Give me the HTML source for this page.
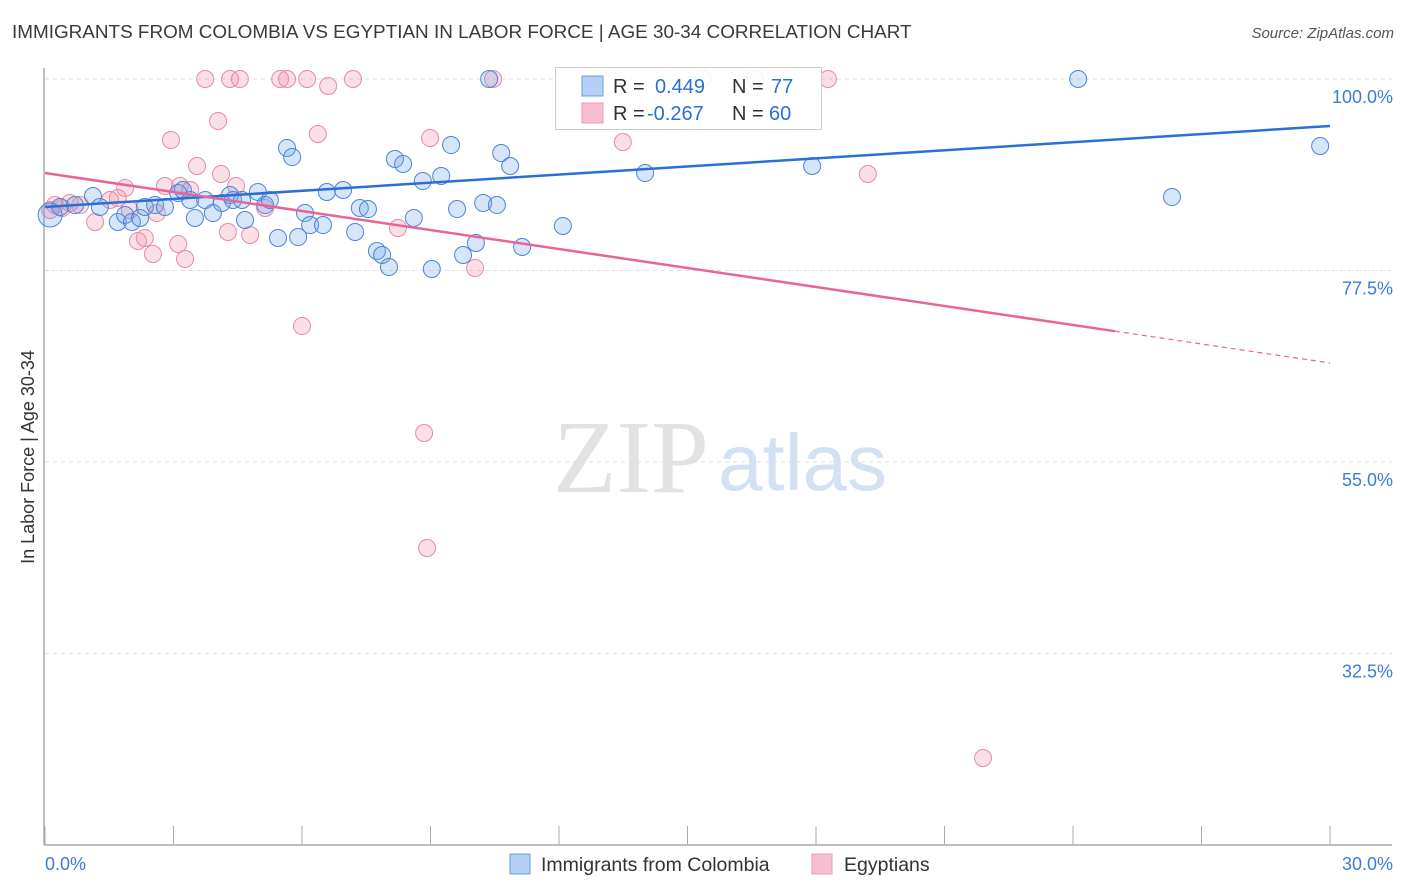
<!DOCTYPE html>
<html><head><meta charset="utf-8"><style>
body{margin:0;background:#fff;font-family:"Liberation Sans",sans-serif;}
#wrap{position:relative;width:1406px;height:892px;overflow:hidden;}
.t{position:absolute;white-space:nowrap;}
</style></head><body>
<div id="wrap">
<div class="t" style="left:12px;top:22px;font-size:18.9px;color:#3a3a3a;">IMMIGRANTS FROM COLOMBIA VS EGYPTIAN IN LABOR FORCE | AGE 30-34 CORRELATION CHART</div>
<div class="t" style="right:12px;top:25px;font-size:15px;color:#555;font-style:italic;">Source: ZipAtlas.com</div>
<svg id="svg" width="1406" height="892" style="position:absolute;left:0;top:0"></svg>
</div>
<script>
const NS='http://www.w3.org/2000/svg';
const yTicks=[100,77.5,55,32.5];
const xTickLabels=['0.0%','30.0%'];
const blueX=[0.12,0.35,0.70,1.12,1.28,1.70,1.87,2.03,2.22,2.33,2.57,2.80,3.11,3.22,3.39,3.50,3.74,3.92,4.13,4.32,4.39,4.60,4.67,4.97,5.14,5.25,5.44,5.65,5.77,5.91,6.07,6.19,6.49,6.58,6.96,7.24,7.35,7.54,7.75,7.87,8.03,8.17,8.36,8.61,8.82,9.03,9.25,9.48,9.62,9.76,10.06,10.23,10.37,10.55,10.65,10.86,11.14,12.09,14.01,15.36,16.58,17.91,24.12,26.31,29.77];
const blueY=[84.02,84.96,85.19,86.25,84.96,83.20,84.02,83.20,83.67,84.96,85.19,84.96,86.60,86.96,85.78,83.67,85.78,84.25,85.43,86.37,85.78,85.78,83.43,86.72,85.19,85.78,81.32,91.89,90.83,81.43,84.25,82.84,82.84,86.72,86.96,82.02,84.84,84.72,79.79,79.32,77.91,90.60,90.01,83.67,88.01,77.67,88.60,92.24,84.72,79.32,80.73,85.43,100,85.19,91.30,89.78,80.26,82.73,88.95,100,100,89.78,100,86.13,92.13];
const pinkX=[0.12,0.23,0.40,0.58,0.82,1.17,1.52,1.70,1.87,1.98,2.17,2.33,2.52,2.61,2.80,2.94,3.11,3.15,3.27,3.39,3.55,3.74,4.04,4.11,4.27,4.32,4.55,4.46,4.79,5.14,5.49,5.65,6.00,6.12,6.37,6.61,7.19,8.24,8.85,8.92,8.99,10.04,10.46,13.49,18.28,19.21,21.90];
const pinkY=[84.61,85.19,84.84,85.43,85.19,83.20,85.78,86.02,87.19,84.61,80.96,81.32,79.44,84.25,87.43,92.83,80.61,87.43,78.85,86.96,89.78,100,95.06,88.84,82.02,100,100,87.43,81.67,84.84,100,100,70.97,100,93.54,99.18,100,82.49,58.40,44.89,93.07,77.79,100,92.60,100,88.84,20.21];
const blueTrend=[84.96,94.48];
const pinkTrend=[88.95,66.63];
const pinkSolidEnd=24.98;
const X=v=>45+v/30*1285;
const Y=v=>79+(100-v)*8.51;
const svg=document.getElementById('svg');
function mk(tag,attrs,parent){const e=document.createElementNS(NS,tag);for(const k in attrs)e.setAttribute(k,attrs[k]);(parent||svg).appendChild(e);return e;}
// watermark
let wm=mk('text',{x:553,y:492,'font-size':104,'font-family':'Liberation Serif,serif',fill:'#e2e2e2'});wm.textContent='ZIP';


let wm2=mk('text',{x:718,y:490,'font-size':80,'font-family':'Liberation Sans,sans-serif',fill:'#d3e1f3'});wm2.textContent='atlas';


// grid
yTicks.forEach(v=>{
 const g=mk('line',{x1:45,x2:1392,y1:Y(v),y2:Y(v),stroke:'#ddd','stroke-dasharray':'4,4'});
 
 
 const t=mk('text',{x:1393,y:Y(v)+24,'text-anchor':'end','font-size':18,fill:'#3b7dd8'});t.textContent=v.toFixed(1)+'%';
 
 
});
// axes
const ax=mk('line',{x1:44,x2:44,y1:68,y2:845,stroke:'#aaa','stroke-width':1.5});


const bx=mk('line',{x1:44,x2:1392,y1:845,y2:845,stroke:'#aaa','stroke-width':1.5});


for(let i=0;i<=10;i++){const tk=mk('line',{x1:X(i*3),x2:X(i*3),y1:826,y2:845,stroke:'#aaa'});
 
 }
const xl0=mk('text',{x:45,y:870,'font-size':18,fill:'#3b7dd8'});xl0.textContent=xTickLabels[0];


const xl1=mk('text',{x:1393,y:870,'text-anchor':'end','font-size':18,fill:'#3b7dd8'});xl1.textContent=xTickLabels[1];


const yt=mk('text',{x:34,y:457,'font-size':18,fill:'#333','text-anchor':'middle',transform:'rotate(-90 34 457)'});yt.textContent='In Labor Force | Age 30-34';


// points
pinkX.forEach((v,i)=>{const c=mk('circle',{cx:X(v),cy:Y(pinkY[i]),r:8.5,fill:'rgba(240,140,170,0.28)',stroke:'#e88aa8','stroke-width':1});
 
 });
blueX.forEach((v,i)=>{const c=mk('circle',{cx:X(v),cy:Y(blueY[i]),r:i===0?12:8.5,fill:'rgba(110,160,230,0.28)',stroke:'#4a86d8','stroke-width':1});
 
 });
// trends
const bl=mk('line',{x1:X(0),y1:Y(blueTrend[0]),x2:X(30),y2:Y(blueTrend[1]),stroke:'#2a6fd6','stroke-width':2.5});


const pm=pinkTrend[0]+(pinkTrend[1]-pinkTrend[0])*pinkSolidEnd/30;
const pl=mk('line',{x1:X(0),y1:Y(pinkTrend[0]),x2:X(pinkSolidEnd),y2:Y(pm),stroke:'#e8649a','stroke-width':2.5});


const pd=mk('line',{x1:X(pinkSolidEnd),y1:Y(pm),x2:X(30),y2:Y(pinkTrend[1]),stroke:'#e8649a','stroke-width':1.2,'stroke-dasharray':'5,4'});


// legend box
const lg=mk('g',{});


mk('rect',{x:555.5,y:67.5,width:266,height:62,fill:'rgba(255,255,255,0.92)',stroke:'#ccc'},lg);
mk('rect',{x:582,y:76,width:21,height:20,fill:'#b6d0f5',stroke:'#6a9ee6'},lg);
mk('rect',{x:582,y:103,width:21,height:20,fill:'#f7c0d2',stroke:'#ec9ab5'},lg);
function lt(x,y,s,c){const t=mk('text',{x:x,y:y,'font-size':20,fill:c},lg);t.textContent=s;return t;}
lt(613,93,'R =','#333');lt(655,93,'0.449','#2a6fd6');lt(732,93,'N =','#333');lt(771,93,'77','#2a6fd6');
lt(613,120,'R =','#333');lt(647,120,'-0.267','#2a6fd6');lt(732,120,'N =','#333');lt(769,120,'60','#2a6fd6');
// bottom legend
const b1=mk('rect',{x:510,y:854,width:20,height:20,fill:'#b6d0f5',stroke:'#6a9ee6'});


const bt1=mk('text',{x:541,y:871,'font-size':19.5,fill:'#333'});bt1.textContent='Immigrants from Colombia';


const b2=mk('rect',{x:812,y:854,width:20,height:20,fill:'#f7c0d2',stroke:'#ec9ab5'});


const bt2=mk('text',{x:844,y:871,'font-size':19.5,fill:'#333'});bt2.textContent='Egyptians';


</script>
</body></html>
